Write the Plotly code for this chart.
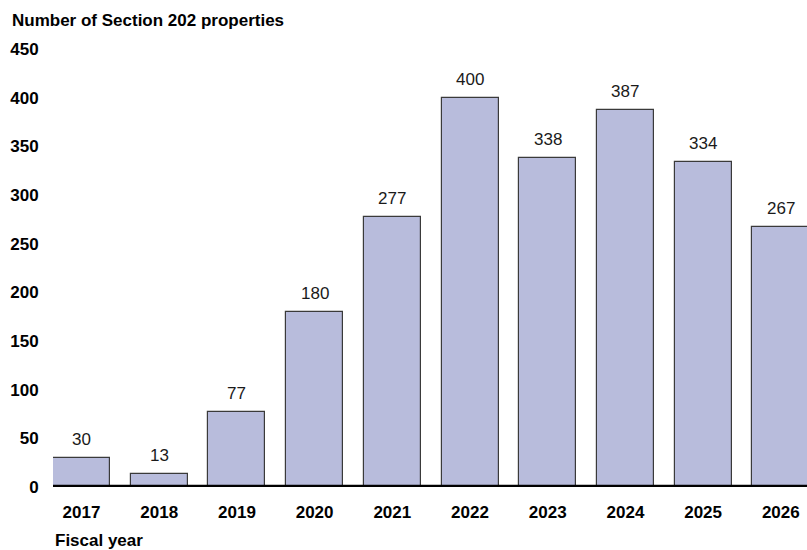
import plotly.graph_objects as go

years = ["2017", "2018", "2019", "2020", "2021", "2022", "2023", "2024", "2025", "2026"]
properties = [30, 13, 77, 180, 277, 400, 338, 387, 334, 267]
y_ticks = [0, 50, 100, 150, 200, 250, 300, 350, 400, 450]

FONT = "Liberation Sans, Arial, sans-serif"
bar_width = 0.734

fig = go.Figure()
fig.add_trace(go.Bar(
    x=list(range(len(years))), y=properties, width=bar_width,
    marker=dict(color="#b8bcdc", line=dict(color="#3a3a3a", width=1.2)),
    hoverinfo="skip",
))

for i, v in enumerate(properties):
    fig.add_annotation(x=i, y=v, text=str(v), showarrow=False, yanchor="bottom",
                       yshift=7, font=dict(family=FONT, size=17, color="#1a1a1a"))

fig.add_shape(type="line", xref="x", yref="y", x0=-bar_width / 2, x1=20, y0=0, y1=0,
              line=dict(color="black", width=4.5))

fig.add_annotation(xref="paper", yref="paper", x=-43 / 754, y=1, xanchor="left", yanchor="bottom",
                   yshift=17, text="<b>Number of Section 202 properties</b>", showarrow=False,
                   font=dict(family=FONT, size=17, color="black"))
fig.add_annotation(xref="paper", yref="paper", x=0, y=0, xanchor="left", yanchor="top",
                   yshift=-42, text="<b>Fiscal year</b>", showarrow=False,
                   font=dict(family=FONT, size=17, color="black"))

fig.update_layout(
    width=807, height=550,
    margin=dict(l=53, r=0, t=49, b=63),
    paper_bgcolor="white", plot_bgcolor="white",
    showlegend=False,
    bargap=0,
    xaxis=dict(
        range=[-bar_width / 2, -bar_width / 2 + 754 / 77.7],
        tickmode="array", tickvals=list(range(len(years))),
        ticktext=["<b>%s</b>" % y for y in years],
        tickfont=dict(family=FONT, size=17, color="black"),
        showgrid=False, zeroline=False, showline=False,
        ticks="outside", ticklen=10, tickcolor="rgba(0,0,0,0)",
    ),
    yaxis=dict(
        range=[0, 450],
        tickmode="array", tickvals=y_ticks,
        ticktext=["<b>%d</b>" % t for t in y_ticks],
        tickfont=dict(family=FONT, size=17, color="black"),
        showgrid=False, zeroline=False, showline=False,
        ticks="outside", ticklen=10, tickcolor="rgba(0,0,0,0)",
    ),
)

fig.write_html("out.html", config={"displayModeBar": False},
               post_script="document.body.style.margin='0';document.body.style.overflow='hidden';")
